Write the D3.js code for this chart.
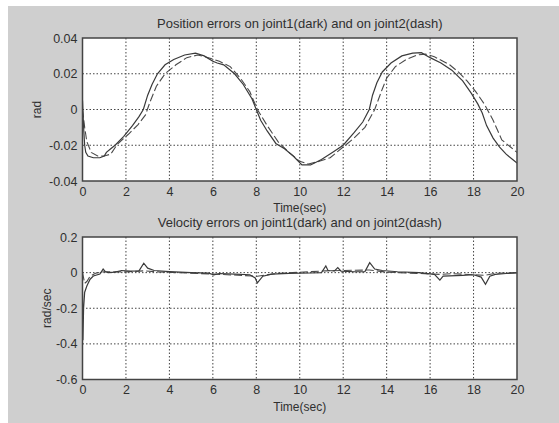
<!DOCTYPE html>
<html>
<head>
<meta charset="utf-8">
<script src="https://cdn.jsdelivr.net/npm/d3@7"></script>
<style>
  html, body { margin: 0; padding: 0; background: #fff; }
  svg { display: block; }
  text { font-family: "Liberation Sans", Arial, sans-serif; fill: #303030; }
</style>
</head>
<body>
<svg id="fig" width="559" height="423"></svg>
<script>
// Time axis shared by both panels
const timeTicks = [0, 2, 4, 6, 8, 10, 12, 14, 16, 18, 20];
const posTicks = [-0.04, -0.02, 0, 0.02, 0.04];
const velTicks = [-0.6, -0.4, -0.2, 0, 0.2];

// Position error, joint 1 (solid)
const posT1 = [0, 0.03, 0.06, 0.1, 0.15, 0.25, 0.5, 0.8, 1.0, 1.1, 1.3, 1.5, 1.9, 2.3, 2.6, 2.8, 3.0, 3.2, 3.45, 3.8, 4.2, 4.7, 5.2, 5.6, 6.0, 6.2, 6.5, 7.0, 7.4, 7.8, 8.0, 8.2, 8.5, 8.9, 9.3, 9.7, 10.1, 10.5, 11.0, 11.5, 12.0, 12.5, 12.9, 13.2, 13.35, 13.55, 13.8, 14.2, 14.7, 15.2, 15.6, 16.0, 16.5, 17.0, 17.5, 17.9, 18.2, 18.4, 18.6, 18.9, 19.2, 19.5, 19.8, 20];
const posJ1 = [0.005, -0.004, -0.012, -0.02, -0.024, -0.026, -0.027, -0.027, -0.026, -0.024, -0.022, -0.02, -0.015, -0.009, -0.004, 0.0, 0.008, 0.014, 0.02, 0.025, 0.028, 0.0305, 0.0315, 0.03, 0.027, 0.026, 0.025, 0.02, 0.014, 0.006, 0.0, -0.006, -0.012, -0.019, -0.022, -0.026, -0.031, -0.031, -0.028, -0.024, -0.02, -0.013, -0.007, 0.0, 0.008, 0.015, 0.021, 0.026, 0.03, 0.0315, 0.0318, 0.029, 0.026, 0.022, 0.016, 0.009, 0.003, -0.002, -0.009, -0.016, -0.021, -0.025, -0.028, -0.03];

// Position error, joint 2 (dashed)
const posT2 = [0, 0.1, 0.2, 0.4, 0.7, 1.0, 1.3, 1.6, 2.1, 2.56, 2.9, 3.1, 3.4, 3.8, 4.3, 4.8, 5.3, 5.8, 6.3, 6.8, 7.3, 7.7, 8.05, 8.5, 9.0, 9.5, 10.0, 10.4, 10.9, 11.4, 12.0, 12.5, 13.0, 13.45, 13.8, 14.0, 14.4, 14.9, 15.4, 15.8, 16.2, 16.9, 17.3, 17.7, 18.1, 18.5, 18.9, 19.3, 19.7, 20];
const posJ2 = [0.0, -0.01, -0.018, -0.024, -0.026, -0.026, -0.025, -0.0195, -0.014, -0.0084, -0.003, 0.004, 0.013, 0.02, 0.025, 0.029, 0.0305, 0.029, 0.027, 0.024, 0.017, 0.01, 0.0, -0.009, -0.018, -0.024, -0.029, -0.0305, -0.029, -0.027, -0.021, -0.016, -0.01, 0.0, 0.0115, 0.0175, 0.024, 0.028, 0.0305, 0.031, 0.0295, 0.025, 0.021, 0.016, 0.01, 0.003, -0.006, -0.017, -0.021, -0.024];

// Velocity error, joint 1 (solid)
const velT1 = [0, 0.02, 0.05, 0.1, 0.2, 0.35, 0.5, 0.8, 0.95, 1.05, 1.2, 1.5, 1.8, 2.2, 2.6, 2.82, 3.0, 3.3, 4.0, 5.0, 5.8, 6.05, 6.3, 7.0, 7.7, 7.95, 8.05, 8.3, 8.7, 9.5, 10.5, 11.0, 11.2, 11.3, 11.6, 11.75, 11.9, 12.5, 13.0, 13.22, 13.45, 13.8, 14.5, 15.5, 16.2, 16.45, 16.6, 16.9, 17.5, 18.0, 18.35, 18.55, 18.75, 19.0, 19.5, 20];
const velJ1 = [-0.11, -0.38, -0.2, -0.11, -0.075, -0.037, -0.019, -0.008, 0.02, 0.005, 0.0, 0.003, 0.012, 0.008, 0.01, 0.053, 0.025, 0.012, 0.006, 0.0, -0.003, -0.012, -0.005, -0.008, -0.012, -0.03, -0.058, -0.02, -0.008, -0.004, -0.002, 0.0, 0.037, 0.012, 0.01, 0.028, 0.008, 0.005, 0.006, 0.056, 0.02, 0.012, 0.005, 0.0, -0.01, -0.042, -0.02, -0.018, -0.015, -0.012, -0.025, -0.066, -0.02, -0.01, -0.005, -0.002];

// Velocity error, joint 2 (dashed)
const velT2 = [0, 0.1, 0.2, 0.35, 0.6, 1.0, 2.0, 2.8, 3.5, 6.0, 8.05, 9.0, 11.2, 13.2, 14.0, 16.45, 17.0, 18.5, 19.0, 20];
const velJ2 = [0.0, -0.06, -0.05, -0.02, -0.003, 0.005, 0.004, 0.01, 0.004, -0.008, -0.02, -0.004, 0.01, 0.015, 0.003, -0.01, -0.006, -0.015, -0.004, 0.0];

const titles = ["Position errors on joint1(dark) and on joint2(dash)", "Velocity errors on joint1(dark) and on joint2(dash)"];
const xLabel = "Time(sec)";
const yLabels = ["rad", "rad/sec"];

const svg = d3.select("#fig");
svg.append("rect").attr("x", 8).attr("y", 6).attr("width", 551).attr("height", 417).attr("fill", "#cfcfcf");

const left = 82.5, right = 517;
const x = d3.scaleLinear().domain([0, 20]).range([left, right]);

const hyphen = s => s.replace("\u2212", "-");
const fmtPos = d => d === 0 ? "0" : hyphen(d3.format(".2f")(d));
const fmtVel = d => d === 0 ? "0" : hyphen(d3.format(".1f")(d));

function panel(cfg) {
  const y = d3.scaleLinear().domain(cfg.domain).range([cfg.bottom, cfg.top]);
  const g = svg.append("g");

  g.append("rect").attr("x", left).attr("y", cfg.top)
    .attr("width", right - left).attr("height", cfg.bottom - cfg.top)
    .attr("fill", "#fff");

  // dotted grid
  g.append("g").selectAll("line").data(timeTicks.slice(1, -1)).join("line")
    .attr("x1", d => x(d)).attr("x2", d => x(d))
    .attr("y1", cfg.top).attr("y2", cfg.bottom)
    .attr("stroke", "#444").attr("stroke-width", 1).attr("stroke-dasharray", "1.5,2");
  g.append("g").selectAll("line").data(cfg.ticks.slice(1, -1)).join("line")
    .attr("x1", left).attr("x2", right)
    .attr("y1", d => y(d)).attr("y2", d => y(d))
    .attr("stroke", "#444").attr("stroke-width", 1).attr("stroke-dasharray", "1.5,2");

  const line = d3.line().x(d => x(d[0])).y(d => y(d[1]));
  const clipId = "clip" + cfg.id;
  g.append("clipPath").attr("id", clipId).append("rect")
    .attr("x", left).attr("y", cfg.top).attr("width", right - left).attr("height", cfg.bottom - cfg.top);

  g.append("path").attr("clip-path", `url(#${clipId})`)
    .datum(d3.zip(cfg.t2, cfg.v2)).attr("d", line)
    .attr("fill", "none").attr("stroke", "#4a4a4a").attr("stroke-width", 1.1)
    .attr("stroke-dasharray", "8,3");
  g.append("path").attr("clip-path", `url(#${clipId})`)
    .datum(d3.zip(cfg.t1, cfg.v1)).attr("d", line)
    .attr("fill", "none").attr("stroke", "#3a3a3a").attr("stroke-width", 1.2);

  // frame
  g.append("rect").attr("x", left).attr("y", cfg.top)
    .attr("width", right - left).attr("height", cfg.bottom - cfg.top)
    .attr("fill", "none").attr("stroke", "#444").attr("stroke-width", 1.5);

  // axes
  const xa = g.append("g").attr("transform", `translate(0,${cfg.bottom})`)
    .call(d3.axisBottom(x).tickValues(timeTicks).tickSize(0).tickPadding(6).tickFormat(d => String(d)));
  const ya = g.append("g").attr("transform", `translate(${left},0)`)
    .call(d3.axisLeft(y).tickValues(cfg.ticks).tickSize(0).tickPadding(5).tickFormat(cfg.fmt));
  [xa, ya].forEach(a => {
    a.select(".domain").remove();
    a.selectAll("text").style("font-size", "12.5px").attr("fill", "#303030")
      .style("font-family", "'Liberation Sans', Arial, sans-serif");
  });

  g.append("text").attr("x", (left + right) / 2).attr("y", cfg.top - 10)
    .attr("text-anchor", "middle").style("font-size", "13px").text(cfg.title);
  g.append("text").attr("x", (left + right) / 2).attr("y", cfg.bottom + 31)
    .attr("text-anchor", "middle").style("font-size", "12px").text(xLabel);
  g.append("text")
    .attr("transform", `translate(${cfg.yLabelX},${(cfg.top + cfg.bottom) / 2}) rotate(-90)`)
    .attr("text-anchor", "middle").style("font-size", "12px").text(cfg.yLabel);
}

panel({ id: 1, top: 38, bottom: 181, domain: [-0.04, 0.04], ticks: posTicks, fmt: fmtPos,
  t1: posT1, v1: posJ1, t2: posT2, v2: posJ2, title: titles[0], yLabel: yLabels[0], yLabelX: 41 });
panel({ id: 2, top: 237, bottom: 379.5, domain: [-0.6, 0.2], ticks: velTicks, fmt: fmtVel,
  t1: velT1, v1: velJ1, t2: velT2, v2: velJ2, title: titles[1], yLabel: yLabels[1], yLabelX: 51 });
</script>
</body>
</html>
